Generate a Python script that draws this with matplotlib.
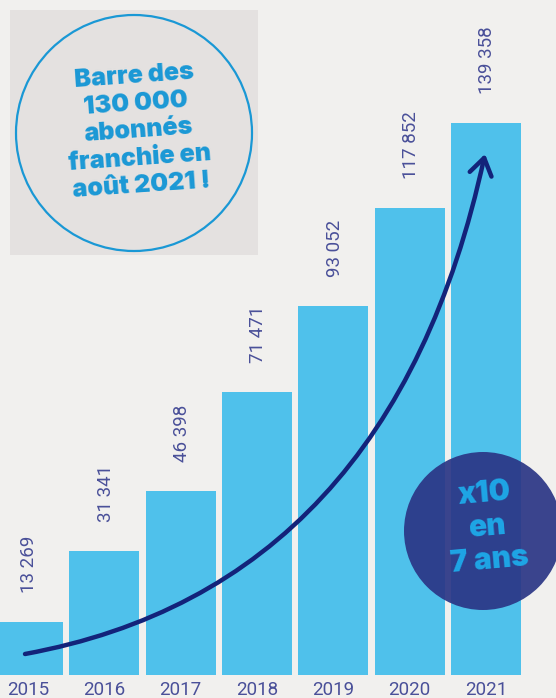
import matplotlib
matplotlib.use("Agg")
import matplotlib.pyplot as plt
from matplotlib.patches import Rectangle, Circle, FancyArrowPatch
from matplotlib.path import Path

# data
years = ["2015", "2016", "2017", "2018", "2019", "2020", "2021"]
subscribers = [13269, 31341, 46398, 71471, 93052, 117852, 139358]
value_labels = ["13 269", "31 341", "46 398", "71 471", "93 052", "117 852", "139 358"]

bg = "#f1f0ee"
bar_color = "#4fc1eb"
label_color = "#4a5099"
heavy = ["Inter", "Roboto", "DejaVu Sans"]

W, H = 556, 698
fig = plt.figure(figsize=(W / 100, H / 100), dpi=100, facecolor=bg)

# main bar axes: baseline 23 px above the bottom edge
ax = fig.add_axes([0, 23 / H, 1, 675 / H])
ax.patch.set_alpha(0)
x = list(range(len(years)))
ax.bar(x, subscribers, width=0.917, color=bar_color, zorder=2)
ax.set_xlim(-0.367, 6.917)
ax.set_ylim(0, 170410)

for xi, v, lab in zip(x, subscribers, value_labels):
    ax.annotate(lab, (xi, v), xytext=(1, 21), textcoords="offset points",
                rotation=90, ha="center", va="bottom", color=label_color,
                fontsize=13.5, family="Roboto")

ax.set_xticks(x)
ax.set_xticklabels(years, color=label_color, fontsize=13.5, family="Roboto")
ax.tick_params(axis="x", length=0, pad=4)
ax.set_yticks([])
for s in ax.spines.values():
    s.set_visible(False)

# overlay in pixel coordinates for the callouts
ov = fig.add_axes([0, 0, 1, 1], zorder=5)
ov.set_xlim(0, W)
ov.set_ylim(H, 0)
ov.axis("off")
ov.patch.set_alpha(0)

# grey box with circled note
ov.add_patch(Rectangle((10, 10), 248, 245, facecolor="#e4e1e0", edgecolor="none"))
ov.add_patch(Circle((134, 133), 118, facecolor="none", edgecolor="#1a98d5", lw=1.6))
ov.text(138, 131, "Barre des\n130 000\nabonnés\nfranchie en\naoût 2021 !",
        ha="center", va="center", rotation=4, rotation_mode="anchor",
        color="#1a98d5", fontsize=18, family=heavy, fontweight="black",
        linespacing=1.24)

# growth arrow
verts = [(25, 654), (391, 587), (485, 154)]
arrow = FancyArrowPatch(path=Path(verts, [Path.MOVETO, Path.CURVE3, Path.CURVE3]),
                        arrowstyle="->,head_length=0.6,head_width=0.4",
                        mutation_scale=20, color="#13237a", lw=3.2,
                        capstyle="round", joinstyle="round")
ov.add_patch(arrow)

# dark circle
ov.add_patch(Circle((483, 531), 79, facecolor="#2a3585", alpha=0.92, edgecolor="none"))
ov.text(487, 527, "x10\nen\n7 ans", ha="center", va="center", rotation=5,
        rotation_mode="anchor", color="#1ea6e6", fontsize=21.5, family=heavy,
        fontweight="black", linespacing=1.25)

fig.savefig("out.png", dpi=100, facecolor=bg)
